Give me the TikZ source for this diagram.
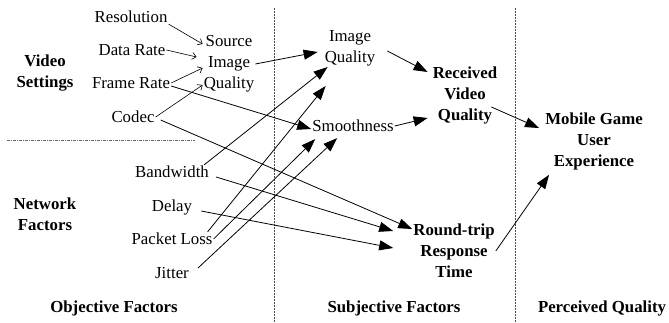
\documentclass[tikz,border=0pt]{standalone}
\usepackage{fontspec}
\setmainfont{Liberation Serif}
\usetikzlibrary{arrows.meta}
\begin{document}
\fontsize{16.8}{21}\selectfont
\begin{tikzpicture}[x=1pt, y=-1pt,
    every node/.style={inner sep=1pt, align=center},
    head/.style={font=\bfseries},
    arr/.style={-{Triangle[length=14pt, width=10pt]}, line width=0.8pt},
    feed/.style={-{Straight Barb[length=4pt, width=7pt]}, line width=0.6pt}]
    \useasboundingbox (0, 0) rectangle (669, 322);

    %Nodes
    \node[head] at (45, 73) (vs) {Video\\Settings};
    \node[head] at (45, 214) (nf) {Network\\Factors};

    \node[] at (131, 17) (res) {Resolution};
    \node[] at (132, 50) (dr) {Data Rate};
    \node[] at (131, 83) (fr) {Frame Rate};
    \node[] at (133, 117) (codec) {Codec};
    \node[] at (229, 64) (siq) {Source\\Image\\Quality};

    \node[] at (172, 172) (bw) {Bandwidth};
    \node[] at (172, 207) (dl) {Delay};
    \node[] at (172, 239) (pl) {Packet Loss};
    \node[] at (172, 273) (jt) {Jitter};

    \node[] at (350, 48) (iq) {Image\\Quality};
    \node[] at (353, 126) (sm) {Smoothness};
    \node[head] at (465, 95) (rvq) {Received\\Video\\Quality};
    \node[head] at (454, 251) (rt) {Round-trip\\Response\\Time};
    \node[head] at (594, 141) (mgue) {Mobile Game\\User\\Experience};

    \node[head] at (114, 308) (obj) {Objective Factors};
    \node[head] at (394, 308) (subj) {Subjective Factors};
    \node[head] at (602, 308) (perc) {Perceived Quality};

    %Dividers
    \draw[dashed, line width=0.5pt, dash pattern=on 2pt off 1pt, black!70] (274, 8) -- (274, 322);
    \draw[dashed, line width=0.5pt, dash pattern=on 2pt off 1pt, black!70] (515, 8) -- (515, 322);
    \draw[line width=0.5pt, dash pattern=on 3pt off 1pt on 1pt off 1pt, black!60] (7, 140) -- (195, 140);

    %Lines
    \draw[feed] (res.south east) -- ([yshift=20pt]siq.west);
    \draw[feed] (dr.east) -- ([xshift=-6pt, yshift=7pt]siq.west);
    \draw[feed] (fr.east) -- ([yshift=-4pt]siq.west);
    \draw[feed] (codec.east) -- ([yshift=-21pt]siq.west);

    \draw[arr] (siq.east) -- ([xshift=-6pt, yshift=-4pt]iq.west);
    \draw[arr] ([yshift=-3pt]fr.east) -- ([yshift=-3pt]sm.west);
    \draw[arr] ([xshift=5pt, yshift=-3pt]codec.east) -- ([yshift=22pt]rt.west);
    \draw[arr] ([xshift=6pt, yshift=-5pt]bw.east) -- ([xshift=-19pt, yshift=20pt]rt.west);
    \draw[arr] ([xshift=8pt, yshift=-4pt]dl.east) -- ([xshift=-19pt, yshift=3pt]rt.west);
    \draw[arr] ([xshift=-6pt]bw.north east) -- ([xshift=4pt]iq.south west);
    \draw[arr] ([xshift=-6pt]pl.north east) -- ([xshift=2pt, yshift=-19pt]iq.south west);
    \draw[arr] (pl.east) -- ([xshift=4pt, yshift=-6pt]sm.south west);
    \draw[arr] ([xshift=8pt, yshift=5pt]jt.east) -- ([xshift=26pt, yshift=-5pt]sm.south west);

    \draw[arr] (sm.east) -- ([xshift=-4pt, yshift=-23pt]rvq.west);
    \draw[arr] ([xshift=11pt, yshift=-3pt]iq.east) -- ([xshift=-4pt, yshift=23pt]rvq.west);
    \draw[arr] ([xshift=-7pt, yshift=-12pt]rvq.east) -- ([xshift=-5pt, yshift=13pt]mgue.west);
    \draw[arr] (rt.east) -- ([xshift=5pt, yshift=-4pt]mgue.south west);

\end{tikzpicture}
\end{document}
